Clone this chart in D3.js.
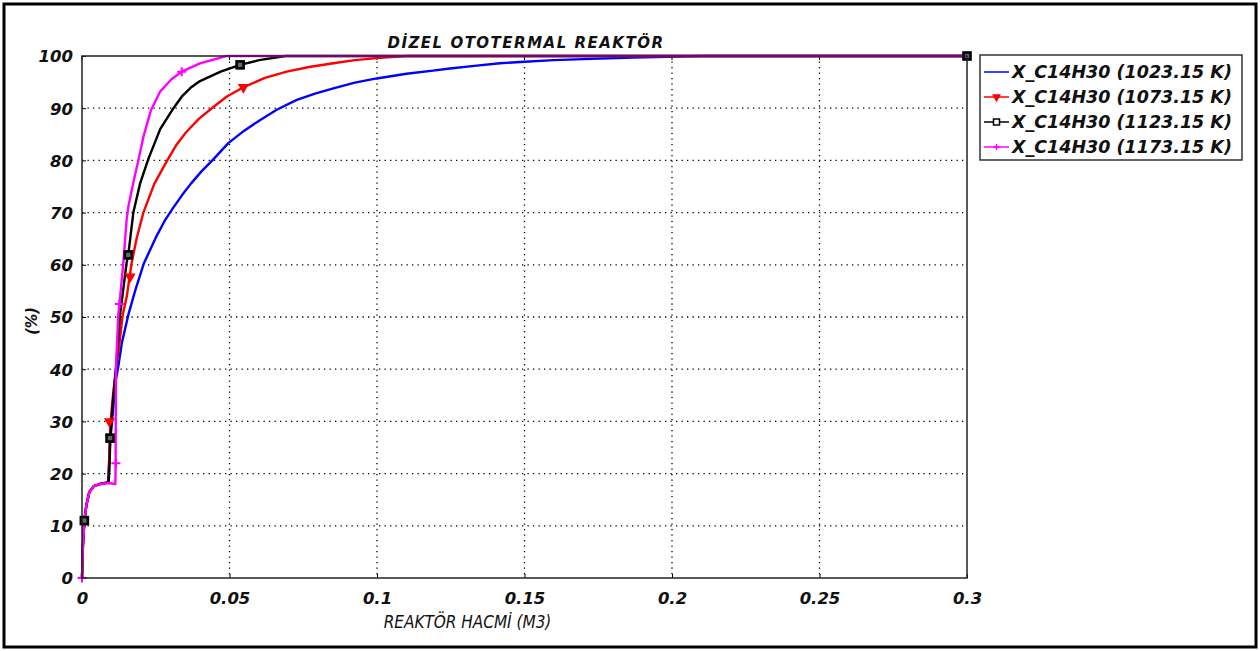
<!DOCTYPE html>
<html>
<head>
<meta charset="utf-8">
<script src="https://cdn.jsdelivr.net/npm/d3@7"></script>
<style>
  body { margin: 0; background: #fff; }
  svg text { fill: #111; }
</style>
</head>
<body>
<div id="chart"></div>
<script>
// reactor volume (m3) vs conversion (%)
const seriesNames = [
  "X_C14H30 (1023.15 K)",
  "X_C14H30 (1073.15 K)",
  "X_C14H30 (1123.15 K)",
  "X_C14H30 (1173.15 K)"
];
const seriesColors = ["#0000ff", "#ff0000", "#000000", "#ff00ff"];
const markerTypes = ["none", "triangle", "square", "plus"];

const blueX = [0, 0.0003, 0.0008, 0.0015, 0.0025, 0.004, 0.006, 0.0088, 0.0092, 0.0095, 0.0105, 0.0115, 0.0123, 0.0135, 0.0157, 0.018, 0.021, 0.025, 0.028, 0.031, 0.034, 0.037, 0.0405, 0.0445, 0.0496, 0.055, 0.0603, 0.066, 0.0728, 0.079, 0.0852, 0.0925, 0.0999, 0.11, 0.119, 0.1247, 0.133, 0.1417, 0.15, 0.16, 0.17, 0.187, 0.21, 0.3];
const blueY = [0, 6, 11, 14, 16.5, 17.6, 18, 18.3, 22, 26, 32, 38, 40.5, 45, 50.4, 55, 60.3, 65.2, 68.4, 71, 73.4, 75.6, 77.9, 80.2, 83.3, 85.7, 87.7, 89.7, 91.6, 92.8, 93.8, 94.9, 95.7, 96.6, 97.2, 97.6, 98.1, 98.6, 98.9, 99.2, 99.4, 99.7, 100, 100];

const redX = [0, 0.0003, 0.0008, 0.0015, 0.0025, 0.004, 0.006, 0.009, 0.0093, 0.0097, 0.0105, 0.0115, 0.0125, 0.0138, 0.0152, 0.0168, 0.0185, 0.0208, 0.0245, 0.0289, 0.0318, 0.035, 0.0395, 0.044, 0.049, 0.0547, 0.062, 0.0694, 0.077, 0.0852, 0.0925, 0.0999, 0.11, 0.3];
const redY = [0, 6, 11, 14, 16.5, 17.6, 18, 18.3, 25, 30, 35, 40, 44, 50.4, 54, 60.3, 65, 70, 75.5, 80, 82.8, 85.2, 87.9, 90, 92.2, 94, 95.8, 97, 97.9, 98.6, 99.2, 99.6, 100, 100];

const blackX = [0, 0.0003, 0.0008, 0.0015, 0.0025, 0.004, 0.006, 0.009, 0.0093, 0.0096, 0.0105, 0.0115, 0.0129, 0.0151, 0.0157, 0.0174, 0.0197, 0.0225, 0.0265, 0.031, 0.0338, 0.0368, 0.04, 0.047, 0.0536, 0.06, 0.069, 0.3];
const blackY = [0, 6, 11, 14, 16.5, 17.6, 18, 18.3, 21, 26.8, 34, 40, 50.4, 60.3, 62, 70, 75.6, 80.3, 86, 90, 92.2, 93.9, 95.2, 97, 98.3, 99.2, 100, 100];

const pinkX = [0, 0.0003, 0.0008, 0.0015, 0.0025, 0.004, 0.006, 0.009, 0.0113, 0.0114, 0.0115, 0.0123, 0.0127, 0.014, 0.0151, 0.0157, 0.0175, 0.0191, 0.0208, 0.0233, 0.0265, 0.0304, 0.0338, 0.04, 0.049, 0.3];
const pinkY = [0, 6, 11, 14, 16.5, 17.6, 18, 18.2, 18, 22, 40, 50.4, 52.5, 60.3, 68.5, 71.1, 76, 80, 84.5, 89.5, 93.2, 95.6, 97, 98.6, 100, 100];

// marker positions
const redMarkX = [0.0093, 0.0163, 0.0547];
const redMarkY = [30, 57.7, 94];
const blackMarkX = [0.0008, 0.0095, 0.0157, 0.0536, 0.3];
const blackMarkY = [11, 26.8, 61.9, 98.3, 100];
const pinkMarkX = [0, 0.0115, 0.0127, 0.0338];
const pinkMarkY = [0, 22, 52.5, 97];

const xTicks = [0, 0.05, 0.1, 0.15, 0.2, 0.25, 0.3];
const yTicks = [0, 10, 20, 30, 40, 50, 60, 70, 80, 90, 100];

const chartTitle = "DİZEL OTOTERMAL REAKTÖR";
const xTitle = "REAKTÖR HACMİ (M3)";
const yTitle = "(%)";

const zip = (xs, ys) => xs.map((x, i) => ({ x: x, y: ys[i] }));
const series = [
  zip(blueX, blueY),
  zip(redX, redY),
  zip(blackX, blackY),
  zip(pinkX, pinkY)
];
const marks = [
  [],
  zip(redMarkX, redMarkY),
  zip(blackMarkX, blackMarkY),
  zip(pinkMarkX, pinkMarkY)
];

const W = 1260, H = 651;
const margin = { top: 56, right: 293, bottom: 73, left: 82 };
const width = W - margin.left - margin.right,
  height = H - margin.top - margin.bottom;

const svg = d3.select("#chart").append("svg")
  .attr("width", W)
  .attr("height", H);

// outer frame
svg.append("rect")
  .attr("x", 4).attr("y", 4)
  .attr("width", W - 8).attr("height", H - 8)
  .attr("fill", "none")
  .attr("stroke", "#000")
  .attr("stroke-width", 3);

const g = svg.append("g")
  .attr("transform", "translate(" + margin.left + "," + margin.top + ")");

const xScale = d3.scaleLinear().domain([0, 0.3]).range([0, width]);
const yScale = d3.scaleLinear().domain([0, 100]).range([height, 0]);

const wideFont = "'DejaVu Sans', sans-serif";
const narrowFont = "'DejaVu Sans Condensed', 'DejaVu Sans', sans-serif";

// dotted grid
g.append("g").attr("class", "grid")
  .selectAll("line.gx")
  .data(xTicks.slice(1, -1))
  .enter().append("line")
  .attr("x1", (d) => xScale(d)).attr("x2", (d) => xScale(d))
  .attr("y1", 0).attr("y2", height)
  .attr("stroke", "#000")
  .attr("stroke-width", 1.3)
  .attr("stroke-dasharray", "1.3,4.2");

g.append("g").attr("class", "grid")
  .selectAll("line.gy")
  .data(yTicks.slice(1, -1))
  .enter().append("line")
  .attr("x1", 0).attr("x2", width)
  .attr("y1", (d) => yScale(d)).attr("y2", (d) => yScale(d))
  .attr("stroke", "#000")
  .attr("stroke-width", 1.3)
  .attr("stroke-dasharray", "1.3,4.2");

// axes
const xAxis = g.append("g")
  .attr("transform", "translate(0," + height + ")")
  .call(d3.axisBottom(xScale).tickValues(xTicks).tickFormat((d) => d3.format("")(d))
    .tickSizeInner(-4).tickSizeOuter(0).tickPadding(14));
const yAxis = g.append("g")
  .call(d3.axisLeft(yScale).tickValues(yTicks).tickSizeInner(-4).tickSizeOuter(0).tickPadding(9));

[xAxis, yAxis].forEach((ax) => {
  ax.select(".domain").remove();
  ax.selectAll("line").attr("stroke", "#000");
  ax.selectAll("text")
    .attr("font-family", wideFont)
    .attr("font-weight", "bold")
    .attr("font-style", "italic")
    .attr("font-size", 16.5)
    .attr("fill", "#111");
});
yAxis.selectAll("text").attr("dy", "0.36em");

// top ticks
g.append("g")
  .selectAll("line")
  .data(xTicks)
  .enter().append("line")
  .attr("x1", (d) => xScale(d)).attr("x2", (d) => xScale(d))
  .attr("y1", 0).attr("y2", 4)
  .attr("stroke", "#000");

// curves
const line = d3.line()
  .x((d) => xScale(d.x))
  .y((d) => yScale(d.y))
  .curve(d3.curveLinear);

const plot = g.append("g");
series.forEach((s, i) => {
  plot.append("path")
    .attr("d", line(s))
    .attr("fill", "none")
    .attr("stroke", seriesColors[i])
    .attr("stroke-width", 2.4)
    .attr("stroke-linejoin", "round");
});

function drawMarker(sel, type, color, size, sw, inner) {
  if (type === "triangle") {
    sel.append("path")
      .attr("d", d3.symbol().type(d3.symbolTriangle).size(size * 6)())
      .attr("transform", "rotate(180)")
      .attr("fill", color);
  } else if (type === "square") {
    sel.append("rect")
      .attr("x", -size / 2).attr("y", -size / 2)
      .attr("width", size).attr("height", size)
      .attr("fill", inner)
      .attr("stroke", color)
      .attr("stroke-width", sw);
  } else if (type === "plus") {
    sel.append("path")
      .attr("d", `M${-size / 2},0H${size / 2}M0,${-size / 2}V${size / 2}`)
      .attr("stroke", color)
      .attr("stroke-width", sw);
  }
}

marks.forEach((m, i) => {
  m.forEach((p) => {
    const mk = plot.append("g")
      .attr("transform", "translate(" + xScale(p.x) + "," + yScale(p.y) + ")");
    drawMarker(mk, markerTypes[i], seriesColors[i], i === 2 ? 7 : 9, i === 2 ? 2.6 : 2, "#666");
  });
});

// plot frame
g.append("rect")
  .attr("width", width).attr("height", height)
  .attr("fill", "none")
  .attr("stroke", "#222")
  .attr("stroke-width", 1.5);

// titles
svg.append("text")
  .attr("x", 526)
  .attr("y", 48)
  .attr("text-anchor", "middle")
  .attr("font-family", wideFont)
  .attr("font-weight", "bold")
  .attr("font-style", "italic")
  .attr("font-size", 15)
  .attr("letter-spacing", 1.5)
  .text(chartTitle);

svg.append("text")
  .attr("x", margin.left + xScale(0.15) - 57)
  .attr("y", 628)
  .attr("text-anchor", "middle")
  .attr("font-family", narrowFont)
  .attr("font-style", "italic")
  .attr("font-size", 17)
  .text(xTitle);

svg.append("text")
  .attr("transform", "translate(37," + (margin.top + yScale(50) + 4) + ") rotate(-90)")
  .attr("text-anchor", "middle")
  .attr("font-family", narrowFont)
  .attr("font-weight", "bold")
  .attr("font-style", "italic")
  .attr("font-size", 16)
  .text(yTitle);

// legend
const legend = svg.append("g").attr("transform", "translate(980,55)");
legend.append("rect")
  .attr("width", 262).attr("height", 105)
  .attr("fill", "#fff")
  .attr("stroke", "#333")
  .attr("stroke-width", 1.5);

seriesNames.forEach((name, i) => {
  const row = legend.append("g").attr("transform", "translate(0," + (17 + i * 25) + ")");
  row.append("line")
    .attr("x1", 4).attr("x2", 29)
    .attr("stroke", seriesColors[i])
    .attr("stroke-width", 1.5);
  const mk = row.append("g").attr("transform", "translate(16.5,0)");
  drawMarker(mk, markerTypes[i], seriesColors[i], 6, 1.5, "#fff");
  row.append("text")
    .attr("x", 32)
    .attr("dy", "0.36em")
    .attr("font-family", wideFont)
    .attr("font-weight", "bold")
    .attr("font-style", "italic")
    .attr("font-size", 17.5)
    .text(name);
});
</script>
</body>
</html>
